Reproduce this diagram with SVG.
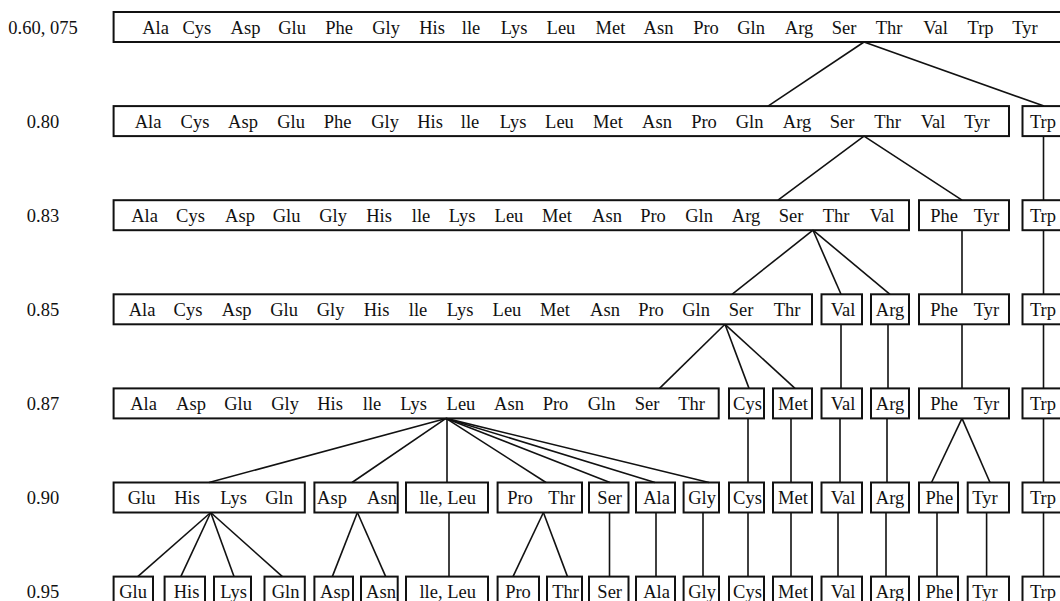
<svg xmlns="http://www.w3.org/2000/svg" width="1060" height="601" viewBox="0 0 1060 601">
<style>
rect{fill:none;stroke:#111;stroke-width:2}
text{font-family:"Liberation Serif","Times New Roman",serif;font-size:18.5px;fill:#111;text-anchor:middle}
#connectors line{stroke:#111;stroke-width:1.6}
</style>
<rect x="0" y="0" width="1060" height="601" style="fill:#fff;stroke:none"/>
<g id="labels">
<text x="43" y="33.5">0.60, 075</text>
<text x="43" y="127.6">0.80</text>
<text x="43" y="221.7">0.83</text>
<text x="43" y="315.8">0.85</text>
<text x="43" y="409.9">0.87</text>
<text x="43" y="504">0.90</text>
<text x="43" y="598.1">0.95</text>
</g>
<g id="connectors">
<line x1="864" y1="42" x2="768" y2="106.1"/>
<line x1="864" y1="42" x2="1044" y2="106.1"/>
<line x1="864" y1="136.1" x2="778" y2="200.2"/>
<line x1="864" y1="136.1" x2="962" y2="200.2"/>
<line x1="1043.5" y1="136.1" x2="1043.5" y2="200.2"/>
<line x1="813" y1="230.2" x2="732" y2="294.3"/>
<line x1="813" y1="230.2" x2="841" y2="294.3"/>
<line x1="813" y1="230.2" x2="890" y2="294.3"/>
<line x1="962" y1="230.2" x2="962" y2="294.3"/>
<line x1="1043.5" y1="230.2" x2="1043.5" y2="294.3"/>
<line x1="725" y1="324.3" x2="659.5" y2="388.4"/>
<line x1="725" y1="324.3" x2="749" y2="388.4"/>
<line x1="725" y1="324.3" x2="795" y2="388.4"/>
<line x1="841" y1="324.3" x2="841" y2="388.4"/>
<line x1="888" y1="324.3" x2="888" y2="388.4"/>
<line x1="962" y1="324.3" x2="962" y2="388.4"/>
<line x1="1043.5" y1="324.3" x2="1043.5" y2="388.4"/>
<line x1="446" y1="418.4" x2="209" y2="482.5"/>
<line x1="446" y1="418.4" x2="352" y2="482.5"/>
<line x1="447" y1="418.4" x2="447" y2="482.5"/>
<line x1="446" y1="418.4" x2="546" y2="482.5"/>
<line x1="446" y1="418.4" x2="610" y2="482.5"/>
<line x1="446" y1="418.4" x2="655" y2="482.5"/>
<line x1="446" y1="418.4" x2="709" y2="482.5"/>
<line x1="748" y1="418.4" x2="748" y2="482.5"/>
<line x1="791" y1="418.4" x2="791" y2="482.5"/>
<line x1="840" y1="418.4" x2="840" y2="482.5"/>
<line x1="887" y1="418.4" x2="887" y2="482.5"/>
<line x1="962" y1="418.4" x2="931.5" y2="482.5"/>
<line x1="962" y1="418.4" x2="990" y2="482.5"/>
<line x1="1043.5" y1="418.4" x2="1043.5" y2="482.5"/>
<line x1="210.7" y1="512.5" x2="137.7" y2="576.6"/>
<line x1="210.7" y1="512.5" x2="180.8" y2="576.6"/>
<line x1="210.7" y1="512.5" x2="234" y2="576.6"/>
<line x1="210.7" y1="512.5" x2="282.4" y2="576.6"/>
<line x1="357.4" y1="512.5" x2="332.3" y2="576.6"/>
<line x1="357.4" y1="512.5" x2="385.7" y2="576.6"/>
<line x1="449" y1="512.5" x2="449" y2="576.6"/>
<line x1="543.4" y1="512.5" x2="513" y2="576.6"/>
<line x1="543.4" y1="512.5" x2="567.5" y2="576.6"/>
<line x1="609.5" y1="512.5" x2="609.5" y2="576.6"/>
<line x1="656" y1="512.5" x2="656" y2="576.6"/>
<line x1="703" y1="512.5" x2="703" y2="576.6"/>
<line x1="748" y1="512.5" x2="748" y2="576.6"/>
<line x1="791" y1="512.5" x2="791" y2="576.6"/>
<line x1="838" y1="512.5" x2="838" y2="576.6"/>
<line x1="886" y1="512.5" x2="886" y2="576.6"/>
<line x1="937" y1="512.5" x2="937" y2="576.6"/>
<line x1="986.6" y1="512.5" x2="986.6" y2="576.6"/>
<line x1="1043.5" y1="512.5" x2="1043.5" y2="576.6"/>
</g>
<g id="r1-all">
<rect x="113.6" y="12" width="952" height="30"/>
<text y="33.5"><tspan x="155.5">Ala</tspan><tspan x="196.8">Cys</tspan><tspan x="245.5">Asp</tspan><tspan x="292">Glu</tspan><tspan x="339">Phe</tspan><tspan x="386">Gly</tspan><tspan x="432">His</tspan><tspan x="471">lle</tspan><tspan x="514">Lys</tspan><tspan x="561">Leu</tspan><tspan x="610.5">Met</tspan><tspan x="658.5">Asn</tspan><tspan x="706">Pro</tspan><tspan x="751">Gln</tspan><tspan x="799">Arg</tspan><tspan x="844">Ser</tspan><tspan x="889">Thr</tspan><tspan x="935.5">Val</tspan><tspan x="980.6">Trp</tspan><tspan x="1025">Tyr</tspan></text>
</g>
<g id="r2-main">
<rect x="113.6" y="106.1" width="895.4" height="30"/>
<text y="127.6"><tspan x="148">Ala</tspan><tspan x="195">Cys</tspan><tspan x="243">Asp</tspan><tspan x="291">Glu</tspan><tspan x="337.5">Phe</tspan><tspan x="385">Gly</tspan><tspan x="430">His</tspan><tspan x="470">lle</tspan><tspan x="513">Lys</tspan><tspan x="559.5">Leu</tspan><tspan x="608">Met</tspan><tspan x="657">Asn</tspan><tspan x="704">Pro</tspan><tspan x="749.5">Gln</tspan><tspan x="797">Arg</tspan><tspan x="842">Ser</tspan><tspan x="887.6">Thr</tspan><tspan x="933">Val</tspan><tspan x="977">Tyr</tspan></text>
</g>
<g id="r2-trp"><rect x="1022.5" y="106.1" width="44" height="30"/><text x="1043" y="127.6">Trp</text></g>
<g id="r3-main">
<rect x="113.6" y="200.2" width="795.4" height="30"/>
<text y="221.7"><tspan x="144.5">Ala</tspan><tspan x="190.5">Cys</tspan><tspan x="240">Asp</tspan><tspan x="286.5">Glu</tspan><tspan x="333">Gly</tspan><tspan x="379">His</tspan><tspan x="421">lle</tspan><tspan x="462">Lys</tspan><tspan x="509">Leu</tspan><tspan x="557">Met</tspan><tspan x="607">Asn</tspan><tspan x="653">Pro</tspan><tspan x="699">Gln</tspan><tspan x="746">Arg</tspan><tspan x="791">Ser</tspan><tspan x="836">Thr</tspan><tspan x="882">Val</tspan></text>
</g>
<g id="r3-phetyr"><rect x="919" y="200.2" width="90" height="30"/><text y="221.7"><tspan x="944">Phe</tspan><tspan x="986.5">Tyr</tspan></text></g>
<g id="r3-trp"><rect x="1022.5" y="200.2" width="44" height="30"/><text x="1043" y="221.7">Trp</text></g>
<g id="r4-main">
<rect x="113.6" y="294.3" width="698.4" height="30"/>
<text y="315.8"><tspan x="142">Ala</tspan><tspan x="188">Cys</tspan><tspan x="236.7">Asp</tspan><tspan x="284">Glu</tspan><tspan x="330.5">Gly</tspan><tspan x="376.5">His</tspan><tspan x="418">lle</tspan><tspan x="460">Lys</tspan><tspan x="507">Leu</tspan><tspan x="555">Met</tspan><tspan x="605">Asn</tspan><tspan x="651">Pro</tspan><tspan x="696">Gln</tspan><tspan x="741">Ser</tspan><tspan x="787">Thr</tspan></text>
</g>
<g id="r4-val"><rect x="821.5" y="294.3" width="40.5" height="30"/><text x="843" y="315.8">Val</text></g>
<g id="r4-arg"><rect x="871" y="294.3" width="38" height="30"/><text x="890" y="315.8">Arg</text></g>
<g id="r4-phetyr"><rect x="919" y="294.3" width="90" height="30"/><text y="315.8"><tspan x="944">Phe</tspan><tspan x="986.5">Tyr</tspan></text></g>
<g id="r4-trp"><rect x="1022.5" y="294.3" width="44" height="30"/><text x="1043" y="315.8">Trp</text></g>
<g id="r5-main">
<rect x="113.6" y="388.4" width="605.1" height="30"/>
<text y="409.9"><tspan x="143.5">Ala</tspan><tspan x="191">Asp</tspan><tspan x="238">Glu</tspan><tspan x="285">Gly</tspan><tspan x="330">His</tspan><tspan x="372">lle</tspan><tspan x="413.5">Lys</tspan><tspan x="461">Leu</tspan><tspan x="509">Asn</tspan><tspan x="555.5">Pro</tspan><tspan x="601.5">Gln</tspan><tspan x="647">Ser</tspan><tspan x="691.5">Thr</tspan></text>
</g>
<g id="r5-cys"><rect x="729" y="388.4" width="35" height="30"/><text x="747.5" y="409.9">Cys</text></g>
<g id="r5-met"><rect x="773" y="388.4" width="39" height="30"/><text x="793" y="409.9">Met</text></g>
<g id="r5-val"><rect x="821.5" y="388.4" width="40.5" height="30"/><text x="843" y="409.9">Val</text></g>
<g id="r5-arg"><rect x="871" y="388.4" width="38" height="30"/><text x="890" y="409.9">Arg</text></g>
<g id="r5-phetyr"><rect x="919" y="388.4" width="90" height="30"/><text y="409.9"><tspan x="944">Phe</tspan><tspan x="986.5">Tyr</tspan></text></g>
<g id="r5-trp"><rect x="1022.5" y="388.4" width="44" height="30"/><text x="1043" y="409.9">Trp</text></g>
<g id="r6-gluhislysgln"><rect x="113.6" y="482.5" width="191.2" height="30"/><text y="504"><tspan x="141.5">Glu</tspan><tspan x="187">His</tspan><tspan x="233.5">Lys</tspan><tspan x="279">Gln</tspan></text></g>
<g id="r6-aspasn"><rect x="314.4" y="482.5" width="83.3" height="30"/><text y="504"><tspan x="332">Asp</tspan><tspan x="382">Asn</tspan></text></g>
<g id="r6-ileleu"><rect x="406" y="482.5" width="82" height="30"/><text x="447.7" y="504">lle, Leu</text></g>
<g id="r6-prothr"><rect x="497.6" y="482.5" width="84.4" height="30"/><text y="504"><tspan x="520">Pro</tspan><tspan x="561.7">Thr</tspan></text></g>
<g id="r6-ser"><rect x="589" y="482.5" width="39.5" height="30"/><text x="609.7" y="504">Ser</text></g>
<g id="r6-ala"><rect x="636" y="482.5" width="39" height="30"/><text x="656.5" y="504">Ala</text></g>
<g id="r6-gly"><rect x="683.6" y="482.5" width="35.4" height="30"/><text x="702" y="504">Gly</text></g>
<g id="r6-cys"><rect x="729" y="482.5" width="35" height="30"/><text x="747.5" y="504">Cys</text></g>
<g id="r6-met"><rect x="773" y="482.5" width="39" height="30"/><text x="793" y="504">Met</text></g>
<g id="r6-val"><rect x="821.5" y="482.5" width="40.5" height="30"/><text x="843" y="504">Val</text></g>
<g id="r6-arg"><rect x="871" y="482.5" width="38" height="30"/><text x="890" y="504">Arg</text></g>
<g id="r6-phe"><rect x="919" y="482.5" width="39" height="30"/><text x="939.3" y="504">Phe</text></g>
<g id="r6-tyr"><rect x="967.7" y="482.5" width="41.3" height="30"/><text x="985" y="504">Tyr</text></g>
<g id="r6-trp"><rect x="1022.5" y="482.5" width="44" height="30"/><text x="1043" y="504">Trp</text></g>
<g id="r7-glu"><rect x="113.6" y="576.6" width="39.4" height="30"/><text x="133" y="598.1">Glu</text></g>
<g id="r7-his"><rect x="164.6" y="576.6" width="40.4" height="30"/><text x="186.5" y="598.1">His</text></g>
<g id="r7-lys"><rect x="214" y="576.6" width="37" height="30"/><text x="233.5" y="598.1">Lys</text></g>
<g id="r7-gln"><rect x="264.5" y="576.6" width="40.3" height="30"/><text x="285.5" y="598.1">Gln</text></g>
<g id="r7-asp"><rect x="314.4" y="576.6" width="38.6" height="30"/><text x="335" y="598.1">Asp</text></g>
<g id="r7-asn"><rect x="361" y="576.6" width="36.7" height="30"/><text x="381" y="598.1">Asn</text></g>
<g id="r7-ileleu"><rect x="406" y="576.6" width="82" height="30"/><text x="447.7" y="598.1">lle, Leu</text></g>
<g id="r7-pro"><rect x="497.6" y="576.6" width="41.4" height="30"/><text x="518" y="598.1">Pro</text></g>
<g id="r7-thr"><rect x="547" y="576.6" width="35" height="30"/><text x="565.5" y="598.1">Thr</text></g>
<g id="r7-ser"><rect x="589" y="576.6" width="39.5" height="30"/><text x="609.7" y="598.1">Ser</text></g>
<g id="r7-ala"><rect x="636" y="576.6" width="39" height="30"/><text x="656.5" y="598.1">Ala</text></g>
<g id="r7-gly"><rect x="683.6" y="576.6" width="35.4" height="30"/><text x="702" y="598.1">Gly</text></g>
<g id="r7-cys"><rect x="729" y="576.6" width="35" height="30"/><text x="747.5" y="598.1">Cys</text></g>
<g id="r7-met"><rect x="773" y="576.6" width="39" height="30"/><text x="793" y="598.1">Met</text></g>
<g id="r7-val"><rect x="821.5" y="576.6" width="40.5" height="30"/><text x="843" y="598.1">Val</text></g>
<g id="r7-arg"><rect x="871" y="576.6" width="38" height="30"/><text x="890" y="598.1">Arg</text></g>
<g id="r7-phe"><rect x="919" y="576.6" width="39" height="30"/><text x="939.3" y="598.1">Phe</text></g>
<g id="r7-tyr"><rect x="967.7" y="576.6" width="41.3" height="30"/><text x="985" y="598.1">Tyr</text></g>
<g id="r7-trp"><rect x="1022.5" y="576.6" width="44" height="30"/><text x="1043" y="598.1">Trp</text></g>
</svg>
